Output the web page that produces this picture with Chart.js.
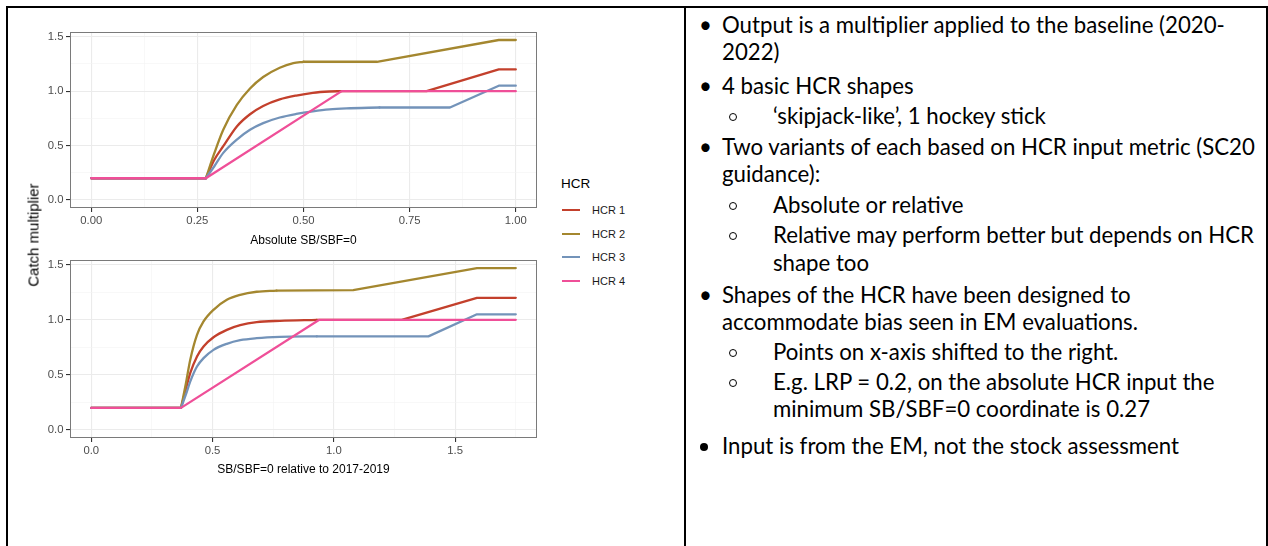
<!DOCTYPE html>
<html><head><meta charset="utf-8">
<script src="https://cdn.jsdelivr.net/npm/chart.js@4.4.0/dist/chart.umd.min.js"></script>
<style>
html,body{margin:0;padding:0;background:#fff;}
body{width:1268px;height:546px;position:relative;overflow:hidden;font-family:"Liberation Sans",Arial,sans-serif;}
canvas{position:absolute;left:0;}
.bar{position:absolute;background:#000;}
#ytitle{position:absolute;left:33px;top:235px;transform:translate(-50%,-50%) rotate(-90deg);font-size:15px;color:#000;white-space:nowrap;}
#legend{position:absolute;left:561px;top:0;}
.legTitle{position:absolute;left:0;top:176px;font-size:13.5px;color:#000;white-space:nowrap;line-height:16px;}
.legItem{position:absolute;left:0;height:0;}
.legKey{position:absolute;left:1px;width:18px;height:2px;top:-1px;}
.legLab{position:absolute;left:31px;top:-7px;font-size:11px;color:#1a1a1a;white-space:nowrap;line-height:14px;}
#notes{position:absolute;left:0;top:0;font-family:Lato,"Open Sans",sans-serif;color:#000;}
.ln{position:absolute;white-space:nowrap;line-height:26px;height:26px;}
.bul{position:absolute;white-space:nowrap;line-height:26px;height:26px;}
.sb{position:absolute;width:8px;height:8px;border:1.3px solid #000;border-radius:50%;box-sizing:border-box;}
.bb{position:absolute;width:8px;height:8px;background:#000;border-radius:50%;}
</style>
</head><body>
<div class="bar" style="left:6px;top:6px;width:1262px;height:2px;"></div>
<div class="bar" style="left:6px;top:6px;width:2px;height:540px;"></div>
<div class="bar" style="left:684px;top:6px;width:2px;height:540px;"></div>
<div class="bar" style="left:1266px;top:6px;width:2px;height:540px;"></div>
<canvas id="cTop" width="560" height="250" style="top:0px"></canvas>
<canvas id="cBot" width="560" height="230" style="top:250px"></canvas>
<div id="ytitle"></div>
<div id="legend"></div>
<div id="notes"></div>
<script>
// ---------------- DATA ----------------
const seriesNames = ['HCR 1', 'HCR 2', 'HCR 3', 'HCR 4'];
const legendTitle = 'HCR';
const yAxisTitle = 'Catch multiplier';

// Top panel: absolute SB/SBF=0
const absTitle = 'Absolute SB/SBF=0';
const abs1X = [0, 0.27, 0.29, 0.311, 0.343, 0.374, 0.405, 0.444, 0.483, 0.522, 0.561, 0.59, 0.79, 0.96, 1.0];
const abs1Y = [0.2, 0.2, 0.37, 0.494, 0.676, 0.788, 0.864, 0.924, 0.96, 0.985, 0.997, 1.0, 1.0, 1.2, 1.2];
const abs2X = [0, 0.27, 0.29, 0.311, 0.343, 0.374, 0.405, 0.444, 0.476, 0.5, 0.673, 0.96, 1.0];
const abs2Y = [0.2, 0.2, 0.43, 0.645, 0.873, 1.024, 1.13, 1.215, 1.258, 1.27, 1.27, 1.47, 1.47];
const abs3X = [0, 0.27, 0.29, 0.311, 0.343, 0.374, 0.405, 0.444, 0.483, 0.522, 0.561, 0.601, 0.679, 0.845, 0.96, 1.0];
const abs3Y = [0.2, 0.2, 0.31, 0.433, 0.555, 0.645, 0.706, 0.758, 0.791, 0.815, 0.833, 0.842, 0.85, 0.85, 1.05, 1.05];
const abs4X = [0, 0.27, 0.59, 1.0];
const abs4Y = [0.2, 0.2, 1.0, 1.0];
// index range [start, end] of the smooth (curved) part of each series
const absCurve = [[1, 11], [1, 9], [1, 12], null];
const absTicks = [0, 0.25, 0.5, 0.75, 1.0];
const absTickLabels = ['0.00', '0.25', '0.50', '0.75', '1.00'];

// Bottom panel: SB/SBF=0 relative to 2017-2019
const relTitle = 'SB/SBF=0 relative to 2017-2019';
const rel1X = [0, 0.37, 0.39, 0.408, 0.436, 0.463, 0.504, 0.559, 0.614, 0.682, 0.778, 0.93, 1.28, 1.59, 1.75];
const rel1Y = [0.2, 0.2, 0.37, 0.515, 0.667, 0.758, 0.842, 0.909, 0.951, 0.979, 0.991, 1.0, 1.0, 1.2, 1.2];
const rel2X = [0, 0.37, 0.39, 0.408, 0.436, 0.463, 0.504, 0.559, 0.614, 0.682, 0.764, 1.08, 1.59, 1.75];
const rel2Y = [0.2, 0.2, 0.42, 0.636, 0.864, 0.985, 1.091, 1.182, 1.227, 1.255, 1.266, 1.27, 1.47, 1.47];
const rel3X = [0, 0.37, 0.39, 0.408, 0.436, 0.463, 0.504, 0.559, 0.614, 0.682, 0.778, 0.93, 1.39, 1.59, 1.75];
const rel3Y = [0.2, 0.2, 0.32, 0.439, 0.576, 0.652, 0.727, 0.782, 0.815, 0.833, 0.845, 0.85, 0.85, 1.05, 1.05];
const rel4X = [0, 0.37, 0.94, 1.75];
const rel4Y = [0.2, 0.2, 1.0, 1.0];
const relCurve = [[1, 11], [1, 10], [1, 11], null];
const relTicks = [0, 0.5, 1.0, 1.5];
const relTickLabels = ['0.0', '0.5', '1.0', '1.5'];

const yTicks = [0, 0.5, 1.0, 1.5];
const yTickLabels = ['0.0', '0.5', '1.0', '1.5'];

// Right-hand notes
const noteLines = [
  {kind: 'bullet', text: 'Output is a multiplier applied to the baseline (2020-', y: 25},
  {kind: 'cont', text: '2022)', y: 52},
  {kind: 'bullet', text: '4 basic HCR shapes', y: 86},
  {kind: 'sub', text: '\u2018skipjack-like\u2019, 1 hockey stick', y: 116},
  {kind: 'bullet', text: 'Two variants of each based on HCR input metric (SC20', y: 147},
  {kind: 'cont', text: 'guidance):', y: 174},
  {kind: 'sub', text: 'Absolute or relative', y: 205},
  {kind: 'sub', text: 'Relative may perform better but depends on HCR', y: 235},
  {kind: 'subcont', text: 'shape too', y: 263},
  {kind: 'bullet', text: 'Shapes of the HCR have been designed to', y: 295},
  {kind: 'cont', text: 'accommodate bias seen in EM evaluations.', y: 322},
  {kind: 'sub', text: 'Points on x-axis shifted to the right.', y: 352},
  {kind: 'sub', text: 'E.g. LRP = 0.2, on the absolute HCR input the', y: 382},
  {kind: 'subcont', text: 'minimum SB/SBF=0 coordinate is 0.27', y: 409},
  {kind: 'bigbullet', text: 'Input is from the EM, not the stock assessment', y: 446}
];

// ---------------- STYLE ----------------
const colors = ['#c3402c', '#a4872f', '#7393b9', '#ef4f98'];
const lineW = 2.3;
const axisFont = 'Liberation Sans';

function expand(lo, hi) { const d = (hi - lo) * 0.05; return [lo - d, hi + d]; }
function minorsOf(major, lo, hi) {
  const out = [];
  const step = major[1] - major[0];
  for (let i = 0; i < major.length - 1; i++) out.push((major[i] + major[i + 1]) / 2);
  if (major[0] - step / 2 >= lo) out.push(major[0] - step / 2);
  if (major[major.length - 1] + step / 2 <= hi) out.push(major[major.length - 1] + step / 2);
  return out;
}

const framePlugin = {
  id: 'frame',
  afterDraw(chart) {
    const a = chart.chartArea, ctx = chart.ctx;
    ctx.save();
    ctx.strokeStyle = '#7a7a7a';
    ctx.lineWidth = 1;
    ctx.strokeRect(Math.round(a.left) + 0.5, Math.round(a.top) + 0.5, Math.round(a.right - a.left) - 1, Math.round(a.bottom - a.top) - 1);
    ctx.restore();
  }
};

function makeAxis(major, labels, range, isX, title, titlePadBottom, size) {
  const minor = minorsOf(major, range[0], range[1]);
  const all = major.concat(minor).sort((a, b) => a - b);
  const ax = {
    type: 'linear',
    min: range[0], max: range[1],
    afterBuildTicks: (s) => { s.ticks = all.map(v => ({value: v, isMinor: minor.indexOf(v) >= 0})); },
    afterFit: (s) => { if (isX) s.height = size; else s.width = size; },
    grid: {
      color: (c) => (c.tick && c.tick.isMinor) ? '#f4f4f4' : '#ebebeb',
      lineWidth: (c) => (c.tick && c.tick.isMinor) ? 0.6 : 1.1,
      tickColor: (c) => (c.tick && c.tick.isMinor) ? 'rgba(0,0,0,0)' : '#333333',
      tickLength: 4,
      drawTicks: true
    },
    border: {display: false},
    ticks: {
      autoSkip: false, maxRotation: 0, padding: 2.5,
      color: '#4d4d4d',
      font: {family: axisFont, size: 11.3},
      callback: (v) => { const i = major.findIndex(m => Math.abs(m - v) < 1e-9); return i >= 0 ? labels[i] : ''; }
    }
  };
  if (title) {
    ax.title = {display: true, text: title, color: '#000', font: {family: axisFont, size: 12}, padding: {top: 0, bottom: titlePadBottom}};
  }
  return ax;
}

function makePanel(id, xs, ys, curves, xTicks, xLabels, title, padTop, titlePadBottom) {
  let xmax = 0, ymax = 0;
  xs.forEach(a => a.forEach(v => { if (v > xmax) xmax = v; }));
  ys.forEach(a => a.forEach(v => { if (v > ymax) ymax = v; }));
  const xr = expand(0, xmax), yr = expand(0, ymax);
  const ds = [];
  seriesNames.forEach((n, i) => {
    const pts = xs[i].map((x, k) => ({x: x, y: ys[i][k]}));
    const base = {
      label: n, borderColor: colors[i], backgroundColor: colors[i],
      borderWidth: lineW, pointRadius: 0, fill: false, spanGaps: false,
      borderJoinStyle: 'round', borderCapStyle: 'round',
      order: seriesNames.length - i
    };
    const cv = curves[i];
    if (!cv) {
      ds.push(Object.assign({}, base, {data: pts, tension: 0}));
    } else {
      const straight = pts.slice(0, cv[0] + 1).concat([{x: pts[cv[0]].x + 1e-6, y: null}], pts.slice(cv[1]));
      const curved = pts.slice(cv[0], cv[1] + 1);
      ds.push(Object.assign({}, base, {data: straight, tension: 0}));
      ds.push(Object.assign({}, base, {data: curved, cubicInterpolationMode: 'monotone', tension: 0.4}));
    }
  });
  new Chart(document.getElementById(id), {
    type: 'line',
    data: {datasets: ds},
    options: {
      responsive: false, animation: false, devicePixelRatio: 1,
      layout: {padding: {left: 0, right: 23, top: padTop, bottom: 0}},
      plugins: {legend: {display: false}, tooltip: {enabled: false}},
      scales: {
        x: makeAxis(xTicks, xLabels, xr, true, title, titlePadBottom, 42),
        y: makeAxis(yTicks, yTickLabels, yr, false, null, 0, 70)
      }
    },
    plugins: [framePlugin]
  });
}

makePanel('cTop', [abs1X, abs2X, abs3X, abs4X], [abs1Y, abs2Y, abs3Y, abs4Y], absCurve, absTicks, absTickLabels, absTitle, 32, 2.2);
makePanel('cBot', [rel1X, rel2X, rel3X, rel4X], [rel1Y, rel2Y, rel3Y, rel4Y], relCurve, relTicks, relTickLabels, relTitle, 10, 3.2);

document.getElementById('ytitle').textContent = yAxisTitle;

// Legend
const leg = document.getElementById('legend');
const lt = document.createElement('div'); lt.className = 'legTitle'; lt.textContent = legendTitle; leg.appendChild(lt);
const legY = [210, 233.7, 257.3, 280.7];
seriesNames.forEach((n, i) => {
  const it = document.createElement('div'); it.className = 'legItem'; it.style.top = legY[i] + 'px';
  const k = document.createElement('div'); k.className = 'legKey'; k.style.background = colors[i];
  const l = document.createElement('div'); l.className = 'legLab'; l.textContent = n;
  it.appendChild(k); it.appendChild(l); leg.appendChild(it);
});

// Notes
const notes = document.getElementById('notes');
const xText = {bullet: 722, bigbullet: 722, cont: 722, sub: 773, subcont: 773};
const spans = [];
noteLines.forEach(ln => {
  const d = document.createElement('div'); d.className = 'ln';
  d.style.left = xText[ln.kind] + 'px'; d.style.top = (ln.y - 13) + 'px';
  d.textContent = ln.text; notes.appendChild(d); spans.push(d);
  if (ln.kind === 'bullet') {
    const b = document.createElement('div'); b.className = 'bul';
    b.textContent = '\u2022';
    b.style.top = (ln.y - 13) + 'px';
    b.style.left = '699px';
    notes.appendChild(b);
  } else if (ln.kind === 'bigbullet') {
    const c = document.createElement('div'); c.className = 'bb';
    c.style.left = '700px'; c.style.top = (ln.y - 3) + 'px';
    notes.appendChild(c);
  } else if (ln.kind === 'sub') {
    const c = document.createElement('div'); c.className = 'sb';
    c.style.left = '729px'; c.style.top = (ln.y - 3) + 'px';
    notes.appendChild(c);
  }
});
notes.style.fontSize = '20px';
const w0 = spans[0].getBoundingClientRect().width;
const fs = 20 * 503 / w0;
notes.style.fontSize = fs.toFixed(2) + 'px';
</script>
</body></html>
